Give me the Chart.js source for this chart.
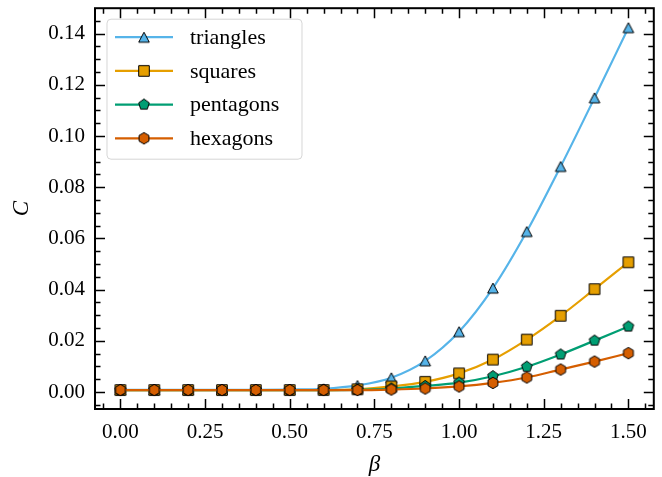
<!DOCTYPE html>
<html>
<head>
<meta charset="utf-8">
<script src="https://cdn.jsdelivr.net/npm/chart.js@4.4.1/dist/chart.umd.min.js"></script>
<style>
    html, body { margin: 0; padding: 0; background: #fff; }
    #wrap { width: 662px; height: 477px; }
</style>
</head>
<body>
<div id="wrap"><canvas id="shapeChart" width="662" height="477"></canvas></div>
<script>
/*==============================================================
    DATA
==============================================================*/
const beta = [0.0, 0.1, 0.2, 0.3, 0.4, 0.5, 0.6, 0.7, 0.8, 0.9, 1.0, 1.1, 1.2, 1.3, 1.4, 1.5];

const triangles = [0.0009, 0.0009, 0.0009, 0.0009, 0.0009, 0.0010, 0.0013, 0.0026,
                   0.0056, 0.0122, 0.0236, 0.0406, 0.0627, 0.0881, 0.1149, 0.1423];
const squares   = [0.0008, 0.0008, 0.0008, 0.0008, 0.0008, 0.0008, 0.0008, 0.0011,
                   0.0022, 0.0040, 0.0073, 0.0127, 0.0205, 0.0298, 0.0402, 0.0507];
const pentagons = [0.0008, 0.0008, 0.0008, 0.0008, 0.0008, 0.0008, 0.0008, 0.0009,
                   0.0014, 0.0024, 0.0037, 0.0062, 0.0099, 0.0147, 0.0201, 0.0256];
const hexagons  = [0.0008, 0.0008, 0.0008, 0.0008, 0.0008, 0.0008, 0.0008, 0.0008,
                   0.0010, 0.0014, 0.0022, 0.0036, 0.0057, 0.0088, 0.0119, 0.0152];

const seriesNames = ["triangles", "squares", "pentagons", "hexagons"];

const xTicks = [0.00, 0.25, 0.50, 0.75, 1.00, 1.25, 1.50];
const yTicks = [0.00, 0.02, 0.04, 0.06, 0.08, 0.10, 0.12, 0.14];
const xMinorStep = 0.05;
const yMinorStep = 0.005;

/*==============================================================
    STYLE
==============================================================*/
const FONT = "'Liberation Serif', 'DejaVu Serif', serif";
const colors = ["#56B4E9", "#E69F00", "#009E73", "#D55E00"];

/*==============================================================
    MARKERS
==============================================================*/
function markerCanvas(draw, color) {
    const size = 18;
    const c = document.createElement("canvas");
    c.width = size;
    c.height = size;
    const g = c.getContext("2d");
    g.translate(size / 2, size / 2);
    g.beginPath();
    draw(g);
    g.closePath();
    g.fillStyle = color;
    g.fill();
    g.lineWidth = 1;
    g.strokeStyle = "#000";
    g.stroke();
    return c;
}

function polygon(sides, radius) {
    return function (g) {
        for (let i = 0; i < sides; i++) {
            const a = -Math.PI / 2 + i * 2 * Math.PI / sides;
            const px = radius * Math.cos(a);
            const py = radius * Math.sin(a);
            if (i === 0) g.moveTo(px, py); else g.lineTo(px, py);
        }
    };
}

function triangle(g) {
    g.moveTo(0, -5);
    g.lineTo(-5.3, 5);
    g.lineTo(5.3, 5);
}

function square(g) {
    g.rect(-5.3, -5.3, 10.6, 10.6);
}

const markers = [
    markerCanvas(triangle, colors[0]),
    markerCanvas(square, colors[1]),
    markerCanvas(polygon(5, 5.6), colors[2]),
    markerCanvas(polygon(6, 5.7), colors[3])
];

/*==============================================================
    PLUGINS
==============================================================*/
function minorValues(min, max, step, every) {
    const out = [];
    const k0 = Math.ceil(min / step - 1e-9);
    const k1 = Math.floor(max / step + 1e-9);
    for (let k = k0; k <= k1; k++) {
        if (k % every !== 0) out.push(k * step);
    }
    return out;
}

const frameTicks = {
    id: "frameTicks",
    afterDatasetsDraw(chart) {
        const { ctx, chartArea: a, scales } = chart;
        const x = scales.x, y = scales.y;
        ctx.save();
        ctx.strokeStyle = "#000";
        ctx.lineWidth = 1.5;
        ctx.beginPath();
        xTicks.forEach(v => {
            const px = Math.round(x.getPixelForValue(v)) + 0.5;
            ctx.moveTo(px, a.bottom); ctx.lineTo(px, a.bottom - 10);
            ctx.moveTo(px, a.top); ctx.lineTo(px, a.top + 10);
        });
        yTicks.forEach(v => {
            const py = Math.round(y.getPixelForValue(v)) + 0.5;
            ctx.moveTo(a.left, py); ctx.lineTo(a.left + 10, py);
            ctx.moveTo(a.right, py); ctx.lineTo(a.right - 10, py);
        });
        minorValues(x.min, x.max, xMinorStep, 5).forEach(v => {
            const px = Math.round(x.getPixelForValue(v)) + 0.5;
            ctx.moveTo(px, a.bottom); ctx.lineTo(px, a.bottom - 5.5);
            ctx.moveTo(px, a.top); ctx.lineTo(px, a.top + 5.5);
        });
        minorValues(y.min, y.max, yMinorStep, 4).forEach(v => {
            const py = Math.round(y.getPixelForValue(v)) + 0.5;
            ctx.moveTo(a.left, py); ctx.lineTo(a.left + 5.5, py);
            ctx.moveTo(a.right, py); ctx.lineTo(a.right - 5.5, py);
        });
        ctx.stroke();
        ctx.lineWidth = 2;
        ctx.strokeRect(a.left, a.top, a.right - a.left, a.bottom - a.top);
        ctx.restore();
    }
};

const legendBox = {
    id: "legendBox",
    afterDraw(chart) {
        const { ctx, chartArea: a } = chart;
        const bx = a.left + 12, by = a.top + 11, bw = 195, bh = 140, r = 4;
        ctx.save();
        ctx.beginPath();
        ctx.moveTo(bx + r, by);
        ctx.arcTo(bx + bw, by, bx + bw, by + bh, r);
        ctx.arcTo(bx + bw, by + bh, bx, by + bh, r);
        ctx.arcTo(bx, by + bh, bx, by, r);
        ctx.arcTo(bx, by, bx + bw, by, r);
        ctx.closePath();
        ctx.fillStyle = "rgba(255,255,255,0.8)";
        ctx.fill();
        ctx.lineWidth = 1;
        ctx.strokeStyle = "rgba(204,204,204,0.8)";
        ctx.stroke();
        chart.data.datasets.forEach((ds, i) => {
            const ry = by + 18 + i * 33.7;
            ctx.beginPath();
            ctx.moveTo(bx + 8, ry);
            ctx.lineTo(bx + 66, ry);
            ctx.lineWidth = 2.2;
            ctx.strokeStyle = ds.borderColor;
            ctx.stroke();
            const m = ds.pointStyle;
            ctx.drawImage(m, bx + 37 - m.width / 2, ry - m.height / 2);
            ctx.fillStyle = "#000";
            ctx.font = "22px " + FONT;
            ctx.textBaseline = "middle";
            ctx.fillText(ds.label, bx + 83, ry + 1);
        });
        ctx.restore();
    }
};

/*==============================================================
    CHART
==============================================================*/
function buildDataset(i, values) {
    return {
        label: seriesNames[i],
        data: beta.map((b, k) => ({ x: b, y: values[k] })),
        borderColor: colors[i],
        backgroundColor: colors[i],
        borderWidth: 2.2,
        pointStyle: markers[i],
        pointRadius: 6,
        cubicInterpolationMode: "monotone",
        order: 4 - i,
        clip: false
    };
}

function shapeChart() {
    const ctx = document.getElementById("shapeChart");
    new Chart(ctx, {
        type: "line",
        data: {
            datasets: [
                buildDataset(0, triangles),
                buildDataset(1, squares),
                buildDataset(2, pentagons),
                buildDataset(3, hexagons)
            ]
        },
        options: {
            responsive: false,
            animation: false,
            events: [],
            layout: { padding: { left: 0, right: 8, top: 7, bottom: 0 } },
            plugins: {
                legend: { display: false },
                tooltip: { enabled: false }
            },
            scales: {
                x: {
                    type: "linear",
                    min: -0.075,
                    max: 1.575,
                    grid: { display: false, drawTicks: false },
                    border: { display: false },
                    afterBuildTicks: s => { s.ticks = xTicks.map(v => ({ value: v })); },
                    afterFit: s => {
                        s.height = 68;
                        s.paddingLeft = 0;
                        s.paddingRight = 0;
                    },
                    ticks: {
                        padding: 11,
                        color: "#000",
                        maxRotation: 0,
                        font: { family: FONT, size: 21 },
                        callback: v => v.toFixed(2)
                    },
                    title: {
                        display: true,
                        text: "β",
                        color: "#000",
                        font: { family: FONT, size: 23, style: "italic" },
                        padding: { top: 0, bottom: -2 }
                    }
                },
                y: {
                    min: -0.0066,
                    max: 0.1499,
                    grid: { display: false, drawTicks: false },
                    border: { display: false },
                    afterBuildTicks: s => { s.ticks = yTicks.map(v => ({ value: v })); },
                    afterFit: s => {
                        s.width = 95;
                        s.paddingTop = 0;
                        s.paddingBottom = 0;
                    },
                    ticks: {
                        padding: 10,
                        color: "#000",
                        font: { family: FONT, size: 21 },
                        callback: v => v.toFixed(2)
                    },
                    title: {
                        display: true,
                        text: "C",
                        color: "#000",
                        font: { family: FONT, size: 23, style: "italic" },
                        padding: { top: 8, bottom: 0 }
                    }
                }
            }
        },
        plugins: [frameTicks, legendBox]
    });
}

shapeChart();
</script>
</body>
</html>
